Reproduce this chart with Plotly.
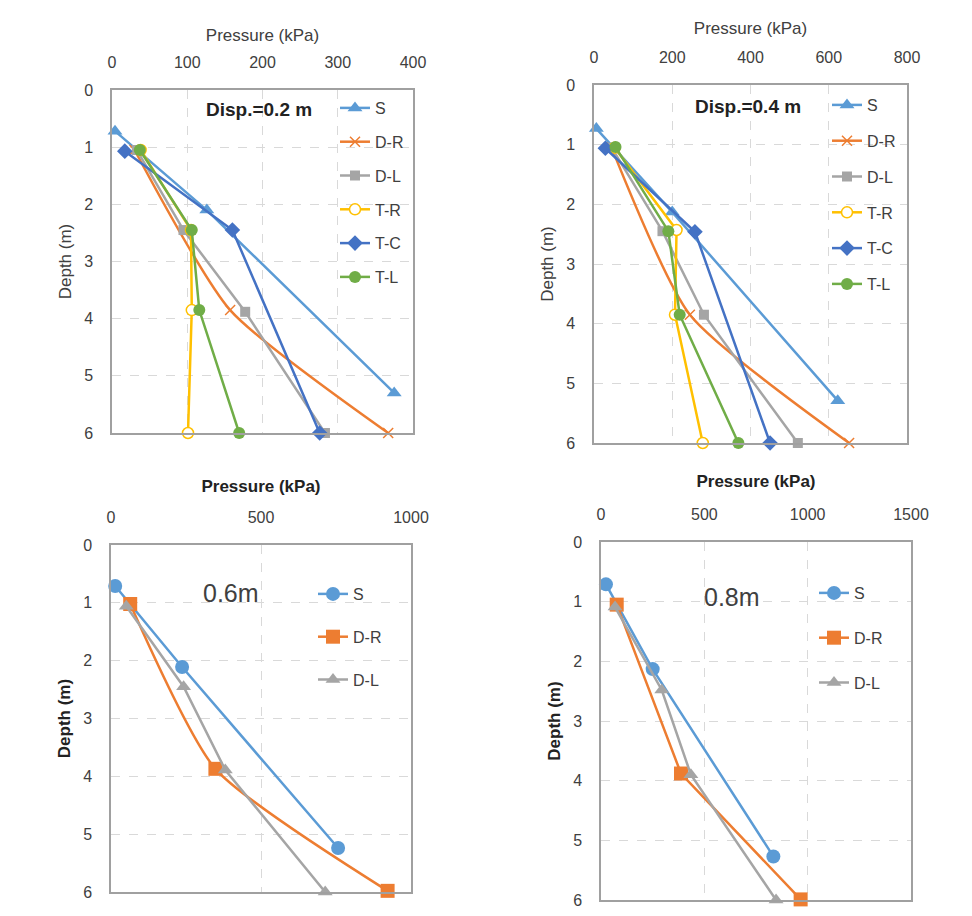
import plotly.graph_objects as go

# ---------------- data ----------------
series_names_top = ["S", "D-R", "D-L", "T-R", "T-C", "T-L"]
series_names_bottom = ["S", "D-R", "D-L"]

# Panel 1: Disp. = 0.2 m
p1_S_depth = [0.72, 2.1, 5.3]
p1_S_p = [4, 126, 375]
p1_DR_depth = [1.05, 3.85, 6.0]
p1_DR_p = [30, 157, 367]
p1_DL_depth = [1.05, 2.45, 3.88, 6.0]
p1_DL_p = [33, 95, 177, 283]
p1_TR_depth = [1.05, 2.45, 3.85, 6.0]
p1_TR_p = [38, 105, 106, 101]
p1_TC_depth = [1.07, 2.45, 6.0]
p1_TC_p = [17, 160, 276]
p1_TL_depth = [1.05, 2.45, 3.85, 6.0]
p1_TL_p = [37, 106, 116, 169]

# Panel 2: Disp. = 0.4 m
p2_S_depth = [0.73, 2.13, 5.29]
p2_S_p = [6, 200, 623]
p2_DR_depth = [1.05, 3.85, 6.0]
p2_DR_p = [45, 245, 652]
p2_DL_depth = [1.05, 2.45, 3.85, 6.0]
p2_DL_p = [45, 175, 281, 521]
p2_TR_depth = [1.05, 2.43, 3.85, 6.0]
p2_TR_p = [53, 211, 207, 278]
p2_TC_depth = [1.06, 2.46, 6.0]
p2_TC_p = [29, 258, 450]
p2_TL_depth = [1.04, 2.45, 3.85, 6.0]
p2_TL_p = [55, 190, 219, 369]

# Panel 3: 0.6 m
p3_S_depth = [0.71, 2.11, 5.24]
p3_S_p = [14, 237, 757]
p3_DR_depth = [1.02, 3.87, 5.98]
p3_DR_p = [64, 348, 922]
p3_DL_depth = [1.06, 2.45, 3.89, 6.0]
p3_DL_p = [51, 242, 381, 714]

# Panel 4: 0.8 m
p4_S_depth = [0.71, 2.13, 5.27]
p4_S_p = [24, 250, 834]
p4_DR_depth = [1.05, 3.88, 5.99]
p4_DR_p = [76, 387, 966]
p4_DL_depth = [1.09, 2.48, 3.9, 6.0]
p4_DL_p = [68, 294, 435, 847]

panel_labels = ["Disp.=0.2 m", "Disp.=0.4 m", "0.6m", "0.8m"]
x_ranges = [[0, 400], [0, 800], [0, 1000], [0, 1500]]
x_dticks = [100, 200, 500, 500]

# ---------------- styling ----------------
# page body has an 8px margin; the figure is sized to fit inside the window
OFF = 8
W, H = 956, 900
FONT = "Liberation Sans"
TXT = "#404040"
C_S, C_DR, C_DL = "#5B9BD5", "#ED7D31", "#A5A5A5"
C_TR, C_TC, C_TL = "#FFC000", "#4472C4", "#70AD47"


def fx(px):
    return (px - OFF) / W


def fy(py):
    return 1 - (py - OFF) / H


# plot-area boxes in window pixels (left, top, right, bottom)
boxes = [(112, 90, 413, 433), (594, 85, 907, 443), (111, 545, 411, 892), (601, 542, 911, 900)]

fig = go.Figure()


def add(idx, name, p, d, color, symbol, size, open_marker=False, spline=False):
    ax = "" if idx == 0 else str(idx + 1)
    marker = dict(symbol=symbol, size=size, color=color)
    if open_marker:
        marker = dict(symbol=symbol, size=size, color="white", line=dict(color=color, width=1.5))
    if symbol == "x-thin":
        marker = dict(symbol=symbol, size=size, color=color, line=dict(color=color, width=1.5))
    fig.add_trace(go.Scatter(
        x=p, y=d, name=name, mode="lines+markers",
        line=dict(color=color, width=2.5, shape="spline" if spline else "linear", smoothing=0.6),
        marker=marker, cliponaxis=False,
        xaxis="x" + ax, yaxis="y" + ax,
        legend="legend" + ax, legendgroup=f"g{idx}{name}",
    ))


add(0, "S", p1_S_p, p1_S_depth, C_S, "triangle-up", 13)
add(0, "D-R", p1_DR_p, p1_DR_depth, C_DR, "x-thin", 10, spline=True)
add(0, "D-L", p1_DL_p, p1_DL_depth, C_DL, "square", 10)
add(0, "T-R", p1_TR_p, p1_TR_depth, C_TR, "circle", 11, open_marker=True)
add(0, "T-C", p1_TC_p, p1_TC_depth, C_TC, "diamond", 12)
add(0, "T-L", p1_TL_p, p1_TL_depth, C_TL, "circle", 12)

add(1, "S", p2_S_p, p2_S_depth, C_S, "triangle-up", 13)
add(1, "D-R", p2_DR_p, p2_DR_depth, C_DR, "x-thin", 10, spline=True)
add(1, "D-L", p2_DL_p, p2_DL_depth, C_DL, "square", 10)
add(1, "T-R", p2_TR_p, p2_TR_depth, C_TR, "circle", 11, open_marker=True)
add(1, "T-C", p2_TC_p, p2_TC_depth, C_TC, "diamond", 12)
add(1, "T-L", p2_TL_p, p2_TL_depth, C_TL, "circle", 12)

add(2, "S", p3_S_p, p3_S_depth, C_S, "circle", 14)
add(2, "D-R", p3_DR_p, p3_DR_depth, C_DR, "square", 14, spline=True)
add(2, "D-L", p3_DL_p, p3_DL_depth, C_DL, "triangle-up", 13)

add(3, "S", p4_S_p, p4_S_depth, C_S, "circle", 14)
add(3, "D-R", p4_DR_p, p4_DR_depth, C_DR, "square", 14)
add(3, "D-L", p4_DL_p, p4_DL_depth, C_DL, "triangle-up", 13)

layout = dict(
    width=W, height=H, margin=dict(l=0, r=0, t=0, b=0),
    paper_bgcolor="white", plot_bgcolor="white",
    font=dict(family=FONT, size=16, color=TXT),
    showlegend=True,
)

# legend left edge, legend top (window px), group gap
legend_pos = [(335, 91, 10), (827, 88, 12), (313, 577, 19), (814, 576, 21)]
x_title_standoff = [8, 10, 12, 14]
for i, (l, t, r, b) in enumerate(boxes):
    ax = "" if i == 0 else str(i + 1)
    bold = i >= 2
    title_font = dict(family=FONT, size=17, color="#222" if bold else TXT)
    ttl_x = "<b>Pressure (kPa)</b>" if bold else "Pressure (kPa)"
    ttl_y = "<b>Depth (m)</b>" if bold else "Depth (m)"
    layout["xaxis" + ax] = dict(
        domain=[fx(l), fx(r)], anchor="y" + ax, side="top",
        range=x_ranges[i], dtick=x_dticks[i], tick0=0,
        showgrid=True, gridcolor="#d9d9d9", griddash="dash", gridwidth=1,
        showline=True, mirror=True, linecolor="#a0a0a0", linewidth=1.5,
        zeroline=False, ticks="", ticklabelstandoff=14, ticklabeloverflow="allow",
        tickfont=dict(family=FONT, size=16, color=TXT),
        title=dict(text=ttl_x, font=title_font, standoff=x_title_standoff[i]),
        automargin=False, fixedrange=True,
    )
    layout["yaxis" + ax] = dict(
        domain=[fy(b), fy(t)], anchor="x" + ax,
        range=[6, 0], dtick=1, tick0=0,
        showgrid=True, gridcolor="#d9d9d9", griddash="dash", gridwidth=1,
        showline=True, mirror=True, linecolor="#a0a0a0", linewidth=1.5,
        zeroline=False, ticks="", ticklabelstandoff=14, ticklabeloverflow="allow",
        tickfont=dict(family=FONT, size=16, color=TXT),
        title=dict(text=ttl_y, font=title_font, standoff=8),
        automargin=False, fixedrange=True,
    )
    lx, ly, gap = legend_pos[i]
    layout["legend" + ax] = dict(
        x=fx(lx), y=fy(ly), xanchor="left", yanchor="top",
        bgcolor="rgba(0,0,0,0)", borderwidth=0,
        font=dict(family=FONT, size=16, color=TXT),
        traceorder="grouped", tracegroupgap=gap,
        itemclick=False, itemdoubleclick=False,
    )

fig.update_layout(**layout)

ann_pos = [(259, 110, True, 19), (748, 106, True, 19), (231, 593, False, 25), (732, 597, False, 25)]
for (xp, yp, bold, sz), txt in zip(ann_pos, panel_labels):
    fig.add_annotation(
        x=fx(xp), y=fy(yp), xref="paper", yref="paper",
        text=f"<b>{txt}</b>" if bold else txt, showarrow=False,
        font=dict(family=FONT, size=sz, color="#222" if bold else TXT),
        xanchor="center", yanchor="middle",
    )

fig.write_html("out.html")
